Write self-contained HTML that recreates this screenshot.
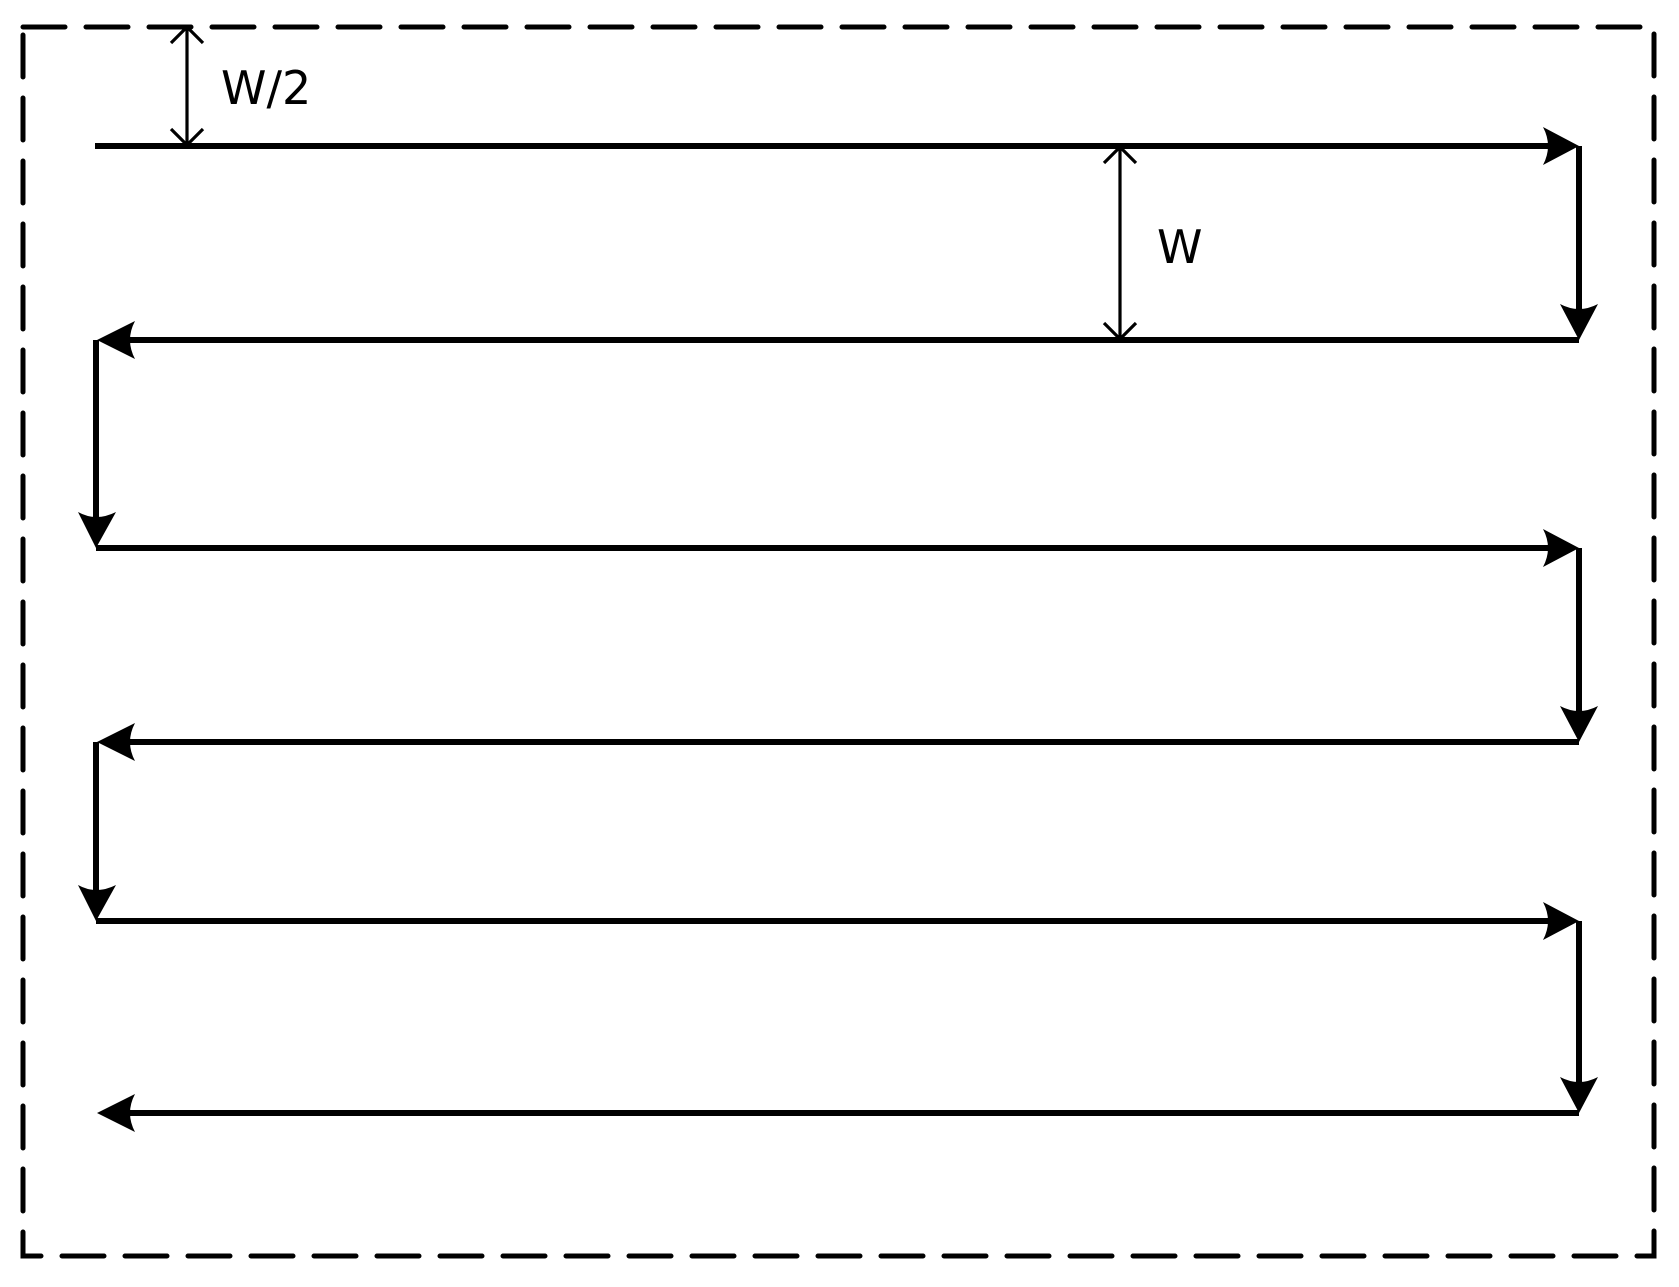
<!DOCTYPE html>
<html><head><meta charset="utf-8"><style>
html,body{margin:0;padding:0;background:#fff}
svg{display:block}
</style></head><body>
<svg width="1679" height="1287" viewBox="0 0 1679 1287" xmlns="http://www.w3.org/2000/svg">
<rect x="23" y="27" width="1631" height="1229" fill="none" stroke="#000" stroke-width="5" stroke-dasharray="42 21" stroke-linecap="round"/>
<g stroke="#000" stroke-width="6" fill="none">
<line x1="95" y1="146" x2="1550" y2="146"/>
<line x1="1579" y1="146" x2="1579" y2="310"/>
<line x1="1579" y1="340" x2="125" y2="340"/>
<line x1="96" y1="340" x2="96" y2="518"/>
<line x1="96" y1="548" x2="1550" y2="548"/>
<line x1="1579" y1="548" x2="1579" y2="712"/>
<line x1="1579" y1="742" x2="125" y2="742"/>
<line x1="96" y1="742" x2="96" y2="891"/>
<line x1="96" y1="921" x2="1550" y2="921"/>
<line x1="1579" y1="921" x2="1579" y2="1083"/>
<line x1="1579" y1="1113" x2="125" y2="1113"/>
</g>
<g fill="#000">
<path d="M1579,146 L1543,127 Q1553,146 1543,165 Z"/>
<path d="M1579,548 L1543,529 Q1553,548 1543,567 Z"/>
<path d="M1579,921 L1543,902 Q1553,921 1543,940 Z"/>
<path d="M1579,340 L1560,304 Q1579,314 1598,304 Z"/>
<path d="M1579,742 L1560,706 Q1579,716 1598,706 Z"/>
<path d="M1579,1113 L1560,1077 Q1579,1087 1598,1077 Z"/>
<path d="M96,548 L78,512 Q96,522 116,512 Z"/>
<path d="M96,921 L78,885 Q96,895 116,885 Z"/>
<path d="M97,340 L135,321 Q125,340 135,359 Z"/>
<path d="M97,742 L135,723 Q125,742 135,761 Z"/>
<path d="M97,1113 L135,1094 Q125,1113 135,1132 Z"/>
</g>
<g stroke="#000" stroke-width="3.2" fill="none">
<line x1="187" y1="28" x2="187" y2="145"/>
<polyline points="171,43 187,27 203,43"/>
<polyline points="171,129 187,145 203,129"/>
<line x1="1120" y1="147" x2="1120" y2="339"/>
<polyline points="1104,163 1120,147 1136,163"/>
<polyline points="1104,323 1120,339 1136,323"/>
</g>
<text x="221" y="104" font-family="'DejaVu Sans','Liberation Sans',sans-serif" font-size="46" fill="#000">W/2</text>
<text x="1157" y="263" font-family="'DejaVu Sans','Liberation Sans',sans-serif" font-size="46" fill="#000">W</text>
</svg>
</body></html>
